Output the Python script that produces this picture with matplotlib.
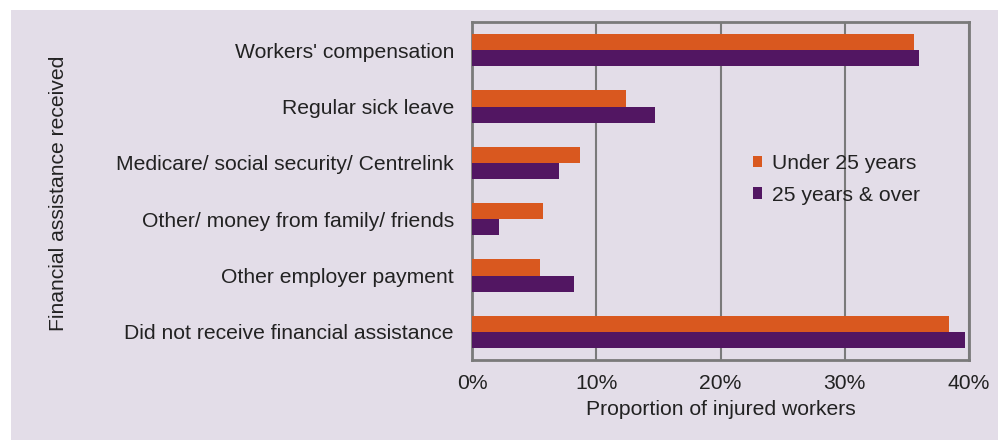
import matplotlib.pyplot as plt
from matplotlib.patches import Patch, Rectangle
import numpy as np

plt.rcParams['font.family'] = ['Liberation Sans', 'DejaVu Sans']

categories = [
    "Workers' compensation",
    "Regular sick leave",
    "Medicare/ social security/ Centrelink",
    "Other/ money from family/ friends",
    "Other employer payment",
    "Did not receive financial assistance",
]
under_25 = [35.6, 12.4, 8.7, 5.7, 5.5, 38.4]
over_25 = [36.0, 14.7, 7.0, 2.2, 8.2, 39.7]
series_names = ["Under 25 years", "25 years & over"]
x_ticks = [0, 10, 20, 30, 40]

orange = "#d9581f"
purple = "#521662"
bg = "#e3dde8"
text_col = "#222222"
line_col = "#7a7a7a"
fs = 15.2

fig = plt.figure(figsize=(9.98, 4.43), dpi=100)
fig.patch.set_facecolor("white")
# lavender panel behind the chart
fig.patches.append(Rectangle((11 / 998, 3 / 443), 987 / 998, 430 / 443,
                             transform=fig.transFigure, facecolor=bg,
                             edgecolor="none", zorder=-10))

ax = fig.add_axes([472 / 998, 1 - 360 / 443, 497 / 998, 338 / 443])
ax.set_facecolor(bg)

y = np.arange(len(categories))
h = 0.285
ax.barh(y - h / 2, under_25, height=h, color=orange, zorder=3)
ax.barh(y + h / 2, over_25, height=h, color=purple, zorder=3)

ax.set_ylim(len(categories) - 0.5, -0.5)
ax.set_xlim(0, 40)
ax.set_yticks(y)
ax.set_yticklabels(categories, fontsize=fs, color=text_col)
ax.set_xticks(x_ticks)
ax.set_xticklabels([f"{t}%" for t in x_ticks], fontsize=fs, color=text_col)
ax.tick_params(axis="both", length=0)
ax.tick_params(axis="y", pad=13)
ax.tick_params(axis="x", pad=10)

ax.grid(axis="x", color=line_col, linewidth=1.5, zorder=1)
for s in ax.spines.values():
    s.set_color(line_col)
    s.set_linewidth(2)

ax.set_xlabel("Proportion of injured workers", fontsize=fs, color=text_col, labelpad=5)
fig.text(59 / 998, 1 - 193 / 443, "Financial assistance received", rotation=90,
         ha="center", va="center", fontsize=fs, color=text_col)

handles = [Patch(facecolor=orange), Patch(facecolor=purple)]
ax.legend(handles, series_names, loc="center left", bbox_to_anchor=(0.527, 0.535),
          frameon=False, fontsize=fs, handlelength=0.45, handleheight=0.45,
          handletextpad=0.45, labelspacing=0.6, labelcolor=text_col)

fig.savefig("out.png", dpi=100, facecolor=fig.get_facecolor())
